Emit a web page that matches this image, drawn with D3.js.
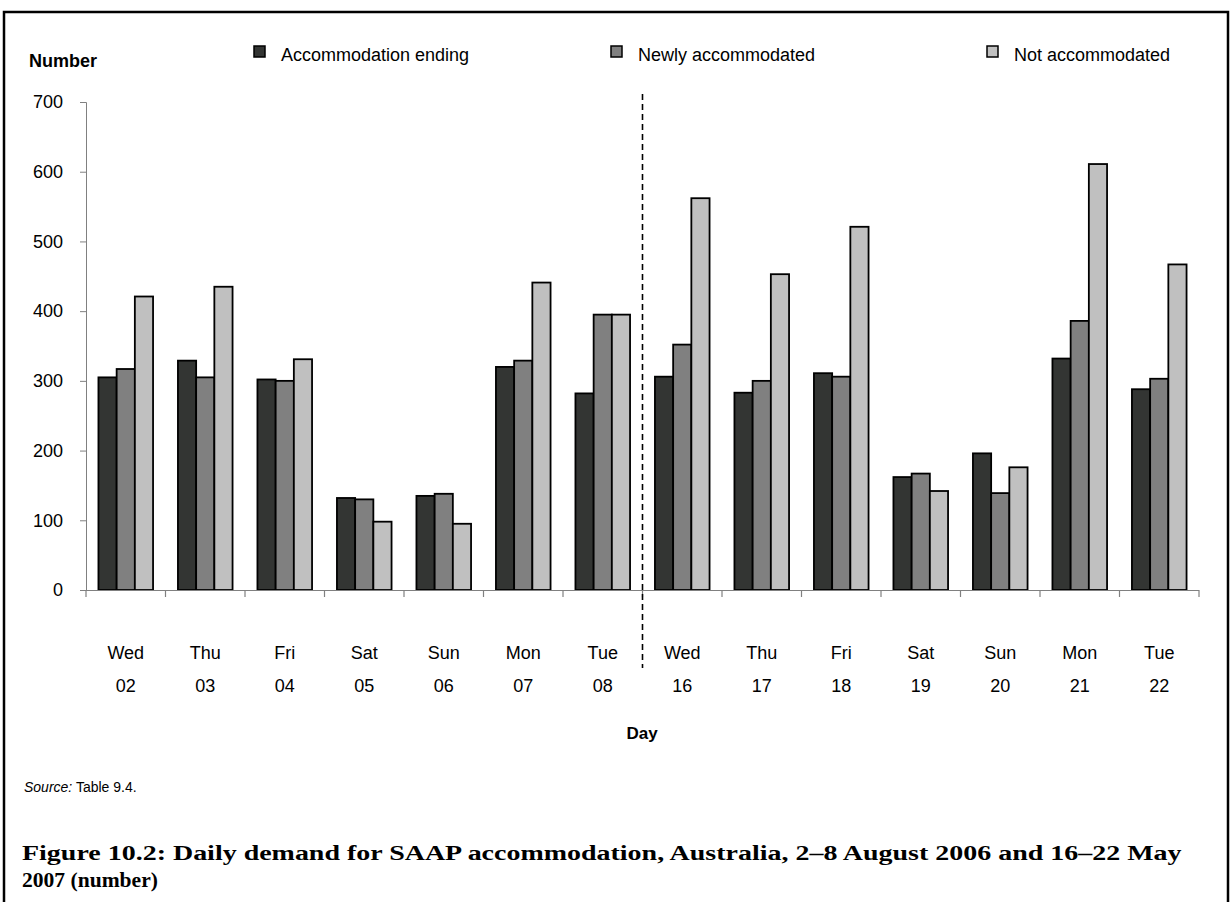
<!DOCTYPE html>
<html><head><meta charset="utf-8">
<script src="https://cdn.jsdelivr.net/npm/d3@7"></script>
<style>
body{margin:0;background:#fff;}
svg{display:block;font-family:Arial,"Liberation Sans",sans-serif;}
</style></head>
<body>
<svg id="chart" width="1231" height="902"></svg>
<script>
const days = ["Wed","Thu","Fri","Sat","Sun","Mon","Tue","Wed","Thu","Fri","Sat","Sun","Mon","Tue"];
const dates = ["02","03","04","05","06","07","08","16","17","18","19","20","21","22"];
const seriesNames = ["Accommodation ending","Newly accommodated","Not accommodated"];
const accommodationEnding = [305,329,302,132,135,320,282,306,283,311,162,196,332,288];
const newlyAccommodated   = [317,305,300,130,138,329,395,352,300,306,167,139,386,303];
const notAccommodated     = [421,435,331,98,95,441,395,562,453,521,142,176,611,467];
const yTicks = [0,100,200,300,400,500,600,700];
const colors = ["#333533","#808080","#c0c0c0"];

const series = [accommodationEnding,newlyAccommodated,notAccommodated];
const svg = d3.select("#chart");

// border
svg.append("path").attr("d","M4,910 L4,12 L1228,12 L1228,910")
  .attr("fill","none").attr("stroke","#000").attr("stroke-width",2.5);

const x0 = d3.scaleBand().domain(d3.range(days.length)).range([86,1199])
  .paddingInner(0.313).paddingOuter(0.1565);
const x1 = d3.scaleBand().domain([0,1,2]).range([0,x0.bandwidth()]);
const y = d3.scaleLinear().domain([0,700]).range([590,102]);

// y axis
const yAxis = svg.append("g").attr("transform","translate(86,0)")
  .call(d3.axisLeft(y).tickValues(yTicks).tickSize(6).tickPadding(17).tickFormat(d3.format("d")));
yAxis.select(".domain").attr("stroke","#808080").attr("d","M-6,102.5H0.5V590.5");
yAxis.selectAll(".tick line").attr("stroke","#808080");
yAxis.selectAll(".tick text").attr("font-size",18).attr("fill","#000")
  .attr("font-family","Arial,'Liberation Sans',sans-serif");

// bars
const groups = svg.append("g").selectAll("g").data(days).join("g")
  .attr("transform",(d,i)=>`translate(${x0(i)},0)`);
groups.selectAll("rect").data((d,i)=>series.map((s,k)=>({k,v:s[i]}))).join("rect")
  .attr("x",d=>x1(d.k)).attr("width",x1.bandwidth())
  .attr("y",d=>y(d.v)).attr("height",d=>y(0)-y(d.v))
  .attr("fill",d=>colors[d.k]).attr("stroke","#000").attr("stroke-width",1.8);

// x axis line and ticks
const step = x0.step();
svg.append("line").attr("x1",86).attr("x2",1199).attr("y1",590.5).attr("y2",590.5)
  .attr("stroke","#808080").attr("stroke-width",1.2);
svg.append("g").selectAll("line").data(d3.range(days.length+1)).join("line")
  .attr("x1",i=>86+i*step).attr("x2",i=>86+i*step).attr("y1",590).attr("y2",597)
  .attr("stroke","#808080").attr("stroke-width",1.2);

// x labels
const lab = svg.append("g").attr("font-size",18).attr("text-anchor","middle");
lab.selectAll("text.d").data(days).join("text").attr("class","d")
  .attr("x",(d,i)=>x0(i)+x0.bandwidth()/2).attr("y",659).text(d=>d);
lab.selectAll("text.n").data(dates).join("text").attr("class","n")
  .attr("x",(d,i)=>x0(i)+x0.bandwidth()/2).attr("y",692).text(d=>d);

// divider
const divX = 86 + 7*step;
svg.append("line").attr("x1",divX).attr("x2",divX).attr("y1",94).attr("y2",668)
  .attr("stroke","#000").attr("stroke-width",1.6).attr("stroke-dasharray","6,4");

// axis titles
svg.append("text").attr("x",29).attr("y",67).attr("font-size",18).attr("font-weight","bold").text("Number");
svg.append("text").attr("x",642).attr("y",739).attr("font-size",17).attr("font-weight","bold")
  .attr("text-anchor","middle").text("Day");

// legend
const legX = [254,611,987];
const leg = svg.append("g").selectAll("g").data(seriesNames).join("g")
  .attr("transform",(d,i)=>`translate(${legX[i]},0)`);
leg.append("rect").attr("x",0).attr("y",46).attr("width",11).attr("height",11)
  .attr("fill",(d,i)=>colors[i]).attr("stroke","#000").attr("stroke-width",1.5);
leg.append("text").attr("x",27).attr("y",61).attr("font-size",18).text(d=>d);

// source
const src = svg.append("text").attr("x",24).attr("y",792).attr("font-size",14);
src.append("tspan").attr("font-style","italic").text("Source:");
src.append("tspan").text(" Table 9.4.");

// title
function titleLine(txt, yPos, width){
  const g = svg.append("g").attr("font-family","'Liberation Serif','Times New Roman',serif")
    .attr("font-weight","bold").attr("font-size",22);
  const tx = g.append("text").attr("x",0).attr("y",0).text(txt);
  const s = width / tx.node().getComputedTextLength();
  g.attr("transform",`translate(22,${yPos}) scale(${s},1)`);
}
titleLine("Figure 10.2: Daily demand for SAAP accommodation, Australia, 2–8 August 2006 and 16–22 May", 860, 1160);
titleLine("2007 (number)", 887, 136);
</script>
</body></html>
